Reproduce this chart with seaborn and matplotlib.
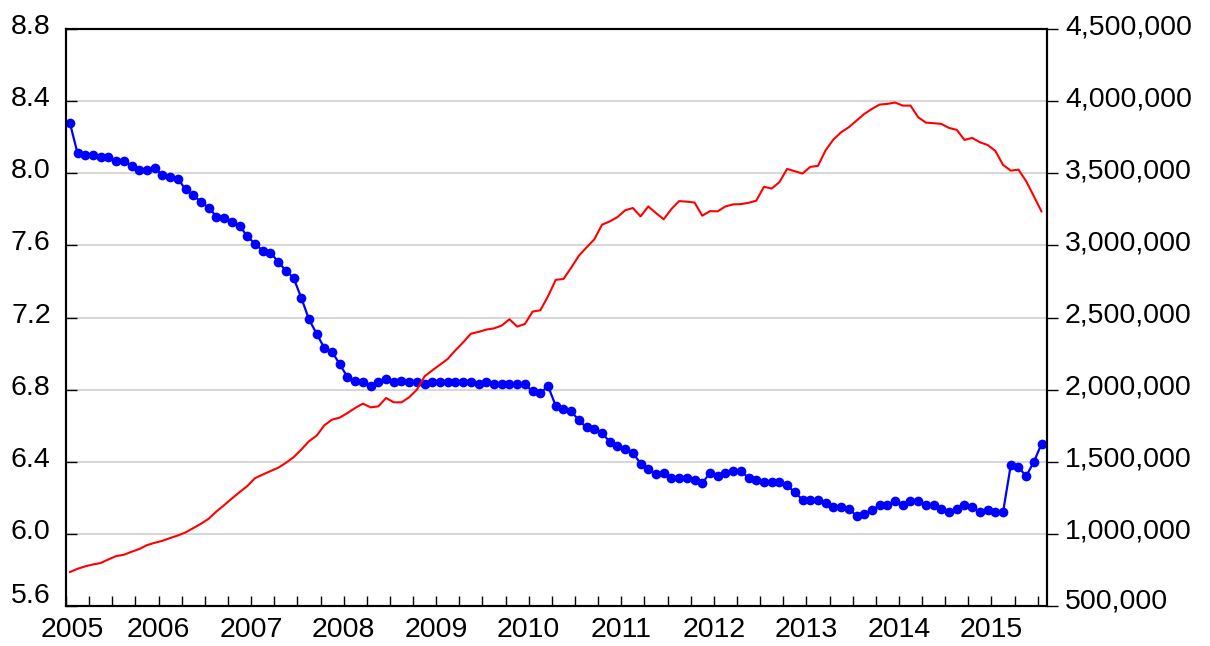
import numpy as np
import pandas as pd
import matplotlib
matplotlib.use("Agg")
import matplotlib.pyplot as plt
import matplotlib.transforms as mtransforms
from matplotlib.ticker import FuncFormatter
import seaborn as sns

FONT_SIZE = 20.5

years = list(range(2005, 2016))

# monthly, 2005M01 .. 2015M07 (left axis, blue)
rate = [
    8.28, 8.11, 8.10, 8.10, 8.09, 8.09, 8.07, 8.07, 8.04, 8.02, 8.02, 8.03,
    7.99, 7.98, 7.97, 7.91, 7.88, 7.84, 7.81, 7.76, 7.75, 7.73, 7.71, 7.65,
    7.61, 7.57, 7.56, 7.51, 7.46, 7.42, 7.31, 7.19, 7.11, 7.03, 7.01, 6.94,
    6.87, 6.85, 6.84, 6.82, 6.84, 6.86, 6.84, 6.85, 6.84, 6.84, 6.83, 6.84,
    6.84, 6.84, 6.84, 6.84, 6.84, 6.83, 6.84, 6.83, 6.83, 6.83, 6.83, 6.83,
    6.79, 6.78, 6.82, 6.71, 6.69, 6.68, 6.63, 6.59, 6.58, 6.56, 6.51, 6.49,
    6.47, 6.45, 6.39, 6.36, 6.33, 6.34, 6.31, 6.31, 6.31, 6.30, 6.28, 6.34,
    6.32, 6.34, 6.35, 6.35, 6.31, 6.30, 6.29, 6.29, 6.29, 6.27, 6.23, 6.19,
    6.19, 6.19, 6.17, 6.15, 6.15, 6.14, 6.10, 6.11, 6.13, 6.16, 6.16, 6.18,
    6.16, 6.18, 6.18, 6.16, 6.16, 6.14, 6.12, 6.14, 6.16, 6.15, 6.12, 6.13,
    6.12, 6.12, 6.38, 6.37, 6.32, 6.40, 6.50,
]

# same months (right axis, red)
volume = [
    735000, 758000, 775000, 788000, 798000, 823000, 846000, 855000, 876000, 895000, 922000, 938000,
    952000, 971000, 989000, 1010000, 1040000, 1070000, 1105000, 1155000, 1199000, 1245000, 1289000, 1331000,
    1386000, 1411000, 1435000, 1458000, 1492000, 1531000, 1584000, 1642000, 1681000, 1753000, 1792000, 1806000,
    1838000, 1873000, 1903000, 1877000, 1884000, 1942000, 1912000, 1912000, 1947000, 2000000, 2092000, 2134000,
    2173000, 2213000, 2273000, 2328000, 2388000, 2400000, 2416000, 2425000, 2444000, 2488000, 2437000, 2455000,
    2541000, 2550000, 2647000, 2761000, 2767000, 2845000, 2928000, 2986000, 3042000, 3143000, 3166000, 3196000,
    3243000, 3259000, 3201000, 3270000, 3224000, 3181000, 3252000, 3307000, 3303000, 3297000, 3206000, 3237000,
    3236000, 3270000, 3284000, 3286000, 3295000, 3310000, 3406000, 3394000, 3438000, 3530000, 3514000, 3498000,
    3544000, 3551000, 3660000, 3733000, 3784000, 3819000, 3865000, 3911000, 3946000, 3976000, 3981000, 3990000,
    3969000, 3969000, 3888000, 3851000, 3847000, 3842000, 3814000, 3801000, 3731000, 3745000, 3715000, 3696000,
    3655000, 3558000, 3518000, 3525000, 3445000, 3340000, 3234000,
]

df = pd.DataFrame({"t": np.arange(len(rate)), "rate": rate, "volume": volume})

sns.set_style("white")
plt.rcParams["font.family"] = ["Liberation Sans", "DejaVu Sans"]

fig = plt.figure(figsize=(12.1, 6.46), dpi=100)
ax = fig.add_axes([66 / 1210, 1 - 606 / 646, (1047 - 66) / 1210, (606 - 29) / 646])
ax2 = ax.twinx()

sns.lineplot(
    data=df, x="t", y="rate", ax=ax, color="#0000ff", linewidth=1.6,
    marker="o", markersize=7, markeredgewidth=0, markeredgecolor="#0000ff",
)
sns.lineplot(data=df, x="t", y="volume", ax=ax2, color="#ff0000", linewidth=1.5)

ax.set_xlim(-0.5, 126.7)
ax.set_ylim(5.6, 8.8)
ax2.set_ylim(500000, 4500000)

ax.set_xticks([12 * i - 0.5 for i in range(len(years))])
ax.set_xticklabels([str(y) for y in years])
ax.set_xticks([3 * i - 0.5 for i in range(43) if i % 4], minor=True)
ax.set_yticks(np.arange(5.6, 8.81, 0.4))
ax.yaxis.set_major_formatter(FuncFormatter(lambda v, p: f"{v:.1f}"))
ax2.set_yticks(np.arange(500000, 4500001, 500000))
ax2.yaxis.set_major_formatter(FuncFormatter(lambda v, p: f"{v:,.0f}"))

ax.set_xlabel("")
ax.set_ylabel("")
ax2.set_ylabel("")

ax.yaxis.grid(True, color="#d0d0d0", linewidth=1.2)
ax.xaxis.grid(False)
ax.set_axisbelow(True)

ax.tick_params(axis="y", direction="in", length=8, width=1, color="black",
               labelcolor="black", labelsize=FONT_SIZE, pad=11, left=True)
ax.tick_params(axis="x", which="both", direction="in", length=7, width=1,
               color="black", labelcolor="black", labelsize=FONT_SIZE, pad=8,
               bottom=True)
ax2.tick_params(axis="y", direction="out", length=8, width=1, color="black",
                labelcolor="black", labelsize=FONT_SIZE, pad=5, right=True)

for a in (ax, ax2):
    for s in a.spines.values():
        s.set_color("black")
        s.set_linewidth(1.5)

# labels in the original sit a little above their ticks
up = mtransforms.ScaledTranslation(0, 0.05, fig.dpi_scale_trans)
for lab in ax.get_yticklabels() + ax2.get_yticklabels():
    lab.set_transform(lab.get_transform() + up)
bottom_left = ax.get_yticklabels()[0]
bottom_left.set_transform(bottom_left.get_transform()
                          + mtransforms.ScaledTranslation(0, 0.08, fig.dpi_scale_trans))
bottom_right = ax2.get_yticklabels()[0]
bottom_right.set_transform(bottom_right.get_transform()
                           + mtransforms.ScaledTranslation(0, 0.03, fig.dpi_scale_trans))
first = ax.get_xticklabels()[0]
first.set_transform(first.get_transform()
                    + mtransforms.ScaledTranslation(0.06, 0, fig.dpi_scale_trans))

fig.savefig("out.png", dpi=100)
